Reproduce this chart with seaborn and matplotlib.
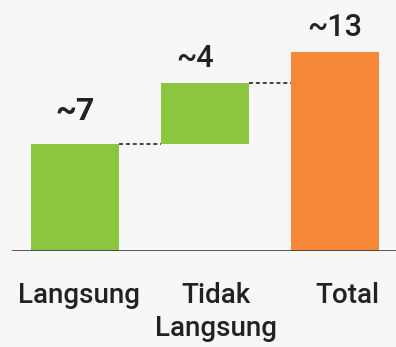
import matplotlib
matplotlib.use("Agg")
import matplotlib.pyplot as plt
import matplotlib.transforms as mtransforms
import seaborn as sns
import pandas as pd

# Waterfall: direct + indirect contributions add up to the total
categories = ["Langsung", "Tidak\nLangsung", "Total"]
steps = [7, 4]
total = 13
value_labels = ["~7", "~4", "~13"]

heights = steps + [total]
bottoms = [0, steps[0], 0]
colors = ["#8cc540", "#8cc540", "#f7883a"]

sns.set_theme(style="white")
plt.rcParams["font.family"] = ["Roboto", "DejaVu Sans"]

bg = "#f7f7f7"
fig = plt.figure(figsize=(3.96, 3.47), dpi=100, facecolor=bg)
ax = fig.add_axes([12 / 396, 96 / 347, 1 - 12 / 396, 251 / 347])
ax.set_facecolor(bg)

df = pd.DataFrame({"cat": categories, "h": heights, "base": bottoms, "color": colors})
for _, row in df.iterrows():
    sns.barplot(x=[row["cat"]], y=[row["h"]], order=categories, bottom=row["base"],
                color=row["color"], width=0.68, saturation=1, ax=ax,
                edgecolor="none", errorbar=None)

ax.set_xlim(-0.485, 2.47)
ax.set_ylim(0, total * 251 / 199)

# connector lines between consecutive bar tops
tops = [b + h for b, h in zip(bottoms, heights)]
half = 0.34
for i in range(len(heights) - 1):
    ax.plot([i + half, i + 1 - half], [tops[i], tops[i]], color="#333333",
            lw=1.3, ls=(0, (2.2, 1.6)), zorder=3)

# value labels above each bar
label_dx = [0, -7, 0]
for i, (t, lab) in enumerate(zip(tops, value_labels)):
    big = i == 0
    ax.annotate(lab, (i, t), xytext=(label_dx[i], 13 if big else 7),
                textcoords="offset points", ha="center", va="bottom",
                fontsize=23 if big else 22,
                fontweight="bold" if big else "medium", color="#222222")

# baseline
ax.axhline(0, color="#3a3a3a", lw=1.9, zorder=4)

sns.despine(ax=ax, left=True, bottom=True)
ax.set_yticks([])
ax.set_xlabel("")
ax.set_ylabel("")
ax.tick_params(axis="x", length=0, pad=22)
ax.set_xticks(range(len(categories)))
ax.set_xticklabels(categories, fontsize=20, fontweight="medium", color="#222222",
                   linespacing=1.3, va="top")

# nudge the category names slightly to the right
tick_dx = [3, 8, 9]
for lbl, dx in zip(ax.get_xticklabels(), tick_dx):
    lbl.set_transform(lbl.get_transform() +
                      mtransforms.ScaledTranslation(dx / 72, 0, fig.dpi_scale_trans))

fig.savefig("out.png", dpi=100, facecolor=bg)
